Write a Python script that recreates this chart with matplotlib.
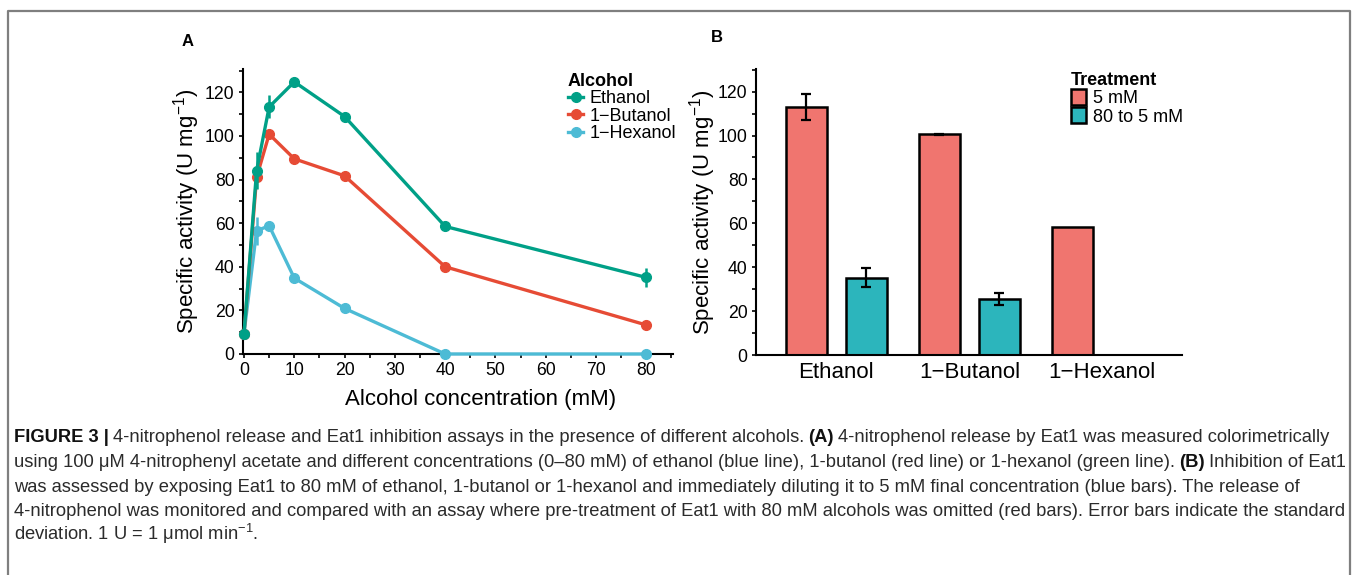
import numpy as np
import matplotlib.pyplot as plt
from matplotlib.lines import Line2D
from matplotlib.ticker import MultipleLocator

# data
conc = [0, 2.5, 5, 10, 20, 40, 80]
ethanol = [9.4, 84.0, 113.3, 124.8, 108.9, 58.5, 35.1]
ethanol_sd = [0, 8.5, 5.3, 2.0, 0.8, 0.6, 4.5]
butanol = [9.4, 81.0, 100.8, 89.5, 81.7, 40.0, 13.3]
butanol_sd = [0, 1.0, 0.8, 2.0, 0.6, 0.6, 0.6]
hexanol = [9.4, 56.5, 58.8, 34.8, 20.9, 0.0, 0.0]
hexanol_sd = [0, 6.4, 0.8, 0.6, 0.6, 0, 0]

alcohols = ['Ethanol', '1\u2212Butanol', '1\u2212Hexanol']
treat_5mM = [112.9, 100.5, 58.5]
treat_5mM_sd = [6.0, 0.2, 0.0]
treat_80to5 = [35.3, 25.5, 0.0]
treat_80to5_sd = [4.2, 2.8, 0.0]

caption = [
    [("FIGURE 3 |", True),
     ("4-nitrophenol release and Eat1 inhibition assays in the presence of different alcohols.", False),
     ("(A)", True),
     ("4-nitrophenol release by Eat1 was measured colorimetrically", False)],
    [("using 100 \u03bcM 4-nitrophenyl acetate and different concentrations (0\u201380 mM) of ethanol (blue line), "
      "1-butanol (red line) or 1-hexanol (green line).", False),
     ("(B)", True),
     ("Inhibition of Eat1", False)],
    [("was assessed by exposing Eat1 to 80 mM of ethanol, 1-butanol or 1-hexanol and immediately diluting it "
      "to 5 mM final concentration (blue bars). The release of", False)],
    [("4-nitrophenol was monitored and compared with an assay where pre-treatment of Eat1 with 80 mM alcohols "
      "was omitted (red bars). Error bars indicate the standard", False)],
    [("deviation. 1 U = 1 \u03bcmol min$^{-1}$.", False)],
]

W, H = 1357, 575
plt.rcParams['font.family'] = ['Liberation Sans', 'DejaVu Sans']
plt.rcParams['mathtext.fontset'] = 'custom'
plt.rcParams['mathtext.rm'] = 'Liberation Sans'
plt.rcParams['mathtext.it'] = 'Liberation Sans:italic'
plt.rcParams['mathtext.bf'] = 'Liberation Sans:bold'
fig = plt.figure(figsize=(W / 100, H / 100), dpi=100)

def px(x0, y0, x1, y1):
    return [x0 / W, 1 - y1 / H, (x1 - x0) / W, (y1 - y0) / H]

def style(ax):
    for s in ['top', 'right']:
        ax.spines[s].set_visible(False)
    for s in ['left', 'bottom']:
        ax.spines[s].set_linewidth(1.5)
        ax.spines[s].set_color('black')
    ax.tick_params(which='both', direction='out', length=3, width=1.2, colors='black')
    ax.tick_params(axis='y', labelsize=12.7, pad=3)
    ax.yaxis.set_major_locator(MultipleLocator(20))
    ax.yaxis.set_minor_locator(MultipleLocator(10))

ylab = 'Specific activity (U mg$^{\\mathregular{-1}}$)'

# panel A
axA = fig.add_axes(px(243, 69, 673, 354))
colors = {'Ethanol': '#00A087', '1\u2212Butanol': '#E64B35', '1\u2212Hexanol': '#4DBBD5'}
series = [('1\u2212Hexanol', hexanol, hexanol_sd),
          ('1\u2212Butanol', butanol, butanol_sd),
          ('Ethanol', ethanol, ethanol_sd)]
handles = {}
for name, vals, sd in series:
    c = colors[name]
    axA.errorbar(conc, vals, yerr=sd, fmt='none', ecolor=c, elinewidth=1.8, capsize=0, clip_on=False, zorder=3)
    ln, = axA.plot(conc, vals, '-o', color=c, lw=2.4, ms=7, clip_on=False, zorder=3)
    handles[name] = ln
axA.set_xlim(-0.2, 85.3)
axA.set_ylim(0, 130.7)
axA.xaxis.set_major_locator(MultipleLocator(10))
axA.xaxis.set_minor_locator(MultipleLocator(5))
axA.tick_params(axis='x', labelsize=12.7, pad=3)
style(axA)
axA.set_xlabel('Alcohol concentration (mM)', fontsize=16)
axA.xaxis.set_label_coords(0.553, -0.123)
axA.set_ylabel(ylab, fontsize=16, labelpad=2)
legA = fig.legend([handles[n] for n in alcohols], alcohols, title='Alcohol',
                  loc='upper left', bbox_to_anchor=(568 / W, 1 - 73 / H), frameon=False,
                  fontsize=13, title_fontproperties={'weight': 'bold', 'size': 13},
                  handlelength=0.85, handletextpad=0.35, labelspacing=0.02, borderpad=0,
                  borderaxespad=0, alignment='left')

# panel B
axB = fig.add_axes(px(756, 69, 1182, 355))
xpos = np.arange(1, len(alcohols) + 1)
bw = 0.31
off = 0.226
b1 = axB.bar(xpos - off, treat_5mM, width=bw, color='#F0756F', edgecolor='black', lw=1.8, zorder=2)
b2 = axB.bar(xpos + off, treat_80to5, width=bw, color='#2CB5BC', edgecolor='black', lw=1.8, zorder=2)
for vals, sd, dx in [(treat_5mM, treat_5mM_sd, -off), (treat_80to5, treat_80to5_sd, off)]:
    idx = [i for i in range(len(sd)) if sd[i] > 0]
    axB.errorbar(xpos[idx] + dx, np.array(vals)[idx], yerr=np.array(sd)[idx], fmt='none',
                 ecolor='black', elinewidth=1.6, capsize=3.5, capthick=1.6, zorder=3)
axB.set_xlim(0.395, 3.6)
axB.set_ylim(0, 130.3)
axB.set_xticks(xpos)
axB.set_xticklabels(alcohols)
style(axB)
axB.tick_params(axis='x', which='both', length=0, labelsize=16, pad=5)
axB.set_ylabel(ylab, fontsize=16, labelpad=0)
legB = fig.legend([b1, b2], ['5 mM', '80 to 5 mM'], title='Treatment',
                  loc='upper left', bbox_to_anchor=(1071 / W, 1 - 72 / H), frameon=False,
                  fontsize=13, title_fontproperties={'weight': 'bold', 'size': 13},
                  handlelength=0.85, handleheight=1.0, handletextpad=0.35, labelspacing=0.0,
                  borderpad=0, borderaxespad=0, alignment='left')

fig.text(188 / W, 1 - 41 / H, 'A', fontsize=12, fontweight='bold', ha='center', va='center')
fig.text(717 / W, 1 - 38 / H, 'B', fontsize=12, fontweight='bold', ha='center', va='center')

# caption + frame
cap = fig.add_axes([0, 0, 1, 1])
cap.axis('off')
cap.set_xlim(0, W)
cap.set_ylim(H, 0)
cap.add_line(Line2D([8, 8, 1350, 1350], [H + 5, 11, 11, H + 5], color='#7f7f7f', lw=1.6))

cap_font = ['Liberation Sans Narrow', 'Liberation Sans', 'DejaVu Sans']
cap_size = 13.2
line_y = [442, 467, 492, 516, 540]
for y, pieces in zip(line_y, caption):
    prev = None
    for text, bold in pieces:
        kw = dict(fontsize=cap_size, family=cap_font, color='#2b2b2b' if not bold else '#111111',
                  fontweight='bold' if bold else 'normal')
        if prev is None:
            prev = cap.text(14, y, text, ha='left', va='baseline', **kw)
        else:
            prev = cap.annotate(text, xy=(1, 0), xycoords=prev, xytext=(3.0, 0),
                                textcoords='offset points', ha='left', va='bottom', **kw)

fig.savefig('out.png', dpi=100)
